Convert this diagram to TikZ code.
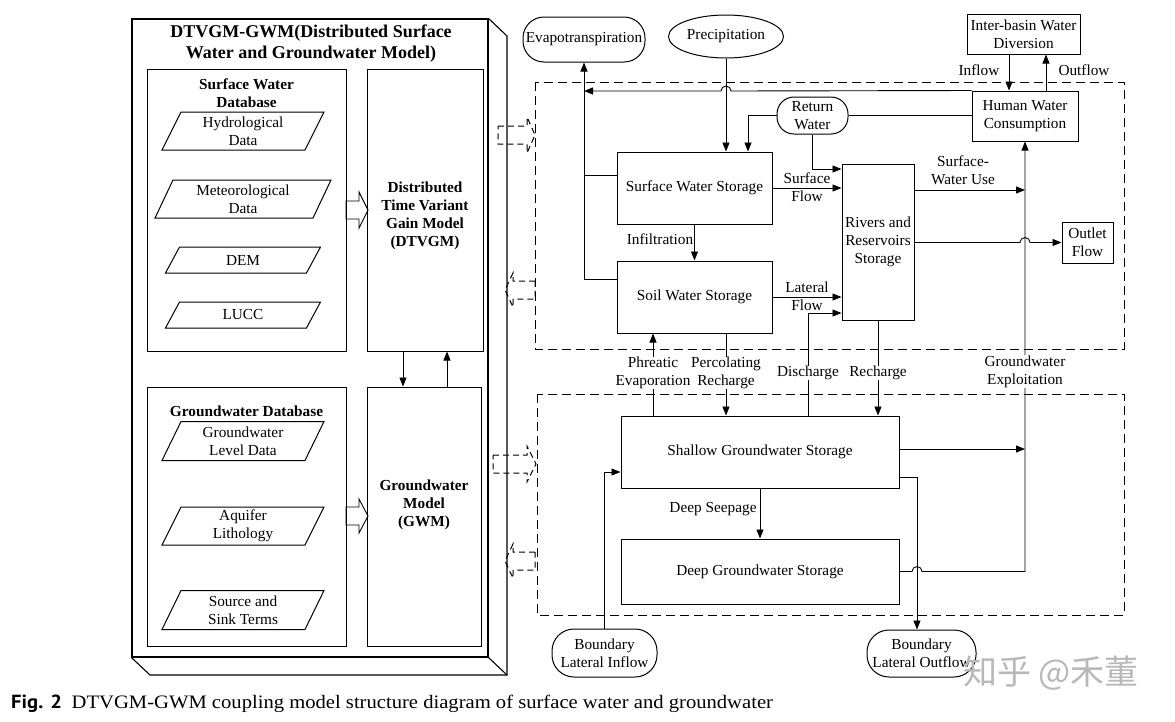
\documentclass[tikz,border=0pt]{standalone}
\usepackage{fontspec}
\setmainfont{Liberation Serif}
\setsansfont{PT Sans}
\newfontfamily\cjkf{Noto Sans CJK SC}
\usetikzlibrary{arrows.meta,shapes.geometric,calc}
\newcommand\fsn{\fontsize{15.3}{18}\selectfont}
\newcommand\fst{\fontsize{18}{21}\selectfont\bfseries}
\newcommand\dbpara[7]{%
  \draw[line width=1pt] ({#1-#3/2-#5/2},{#2+#4/2}) -- ({#1+#3/2-#5/2},{#2+#4/2}) -- ({#1+#3/2+#5/2},{#2-#4/2}) -- ({#1-#3/2+#5/2},{#2-#4/2}) -- cycle;
  \node[lbl] (#6) at (#1,#2) {#7};}
\newcommand\hollow[7]{% x0 xb xt y hw hh style
  \draw[#7] (#1,{#4-#5}) -- (#2,{#4-#5}) -- (#2,{#4-#6}) -- (#3,#4) -- (#2,{#4+#6}) -- (#2,{#4+#5}) -- (#1,{#4+#5}) -- cycle;}
\tikzset{
  box/.style={draw, line width=1pt, inner sep=0pt, align=center, font=\fsn},
  stad/.style={box, rounded corners=#1},
  lbl/.style={align=center, inner sep=0.5pt, font=\fsn},
  lblw/.style={lbl, fill=white},
  arr/.style={-{Triangle[length=9pt,width=7pt]}, line width=0.9pt},
  ln/.style={line width=0.9pt},
  dashbox/.style={dash pattern=on 9pt off 5pt, line width=1pt},
  dasharr/.style={dash pattern=on 6pt off 4pt, line width=1pt},
  solarr/.style={line width=0.9pt},
}
\begin{document}
\begin{tikzpicture}[x=1pt,y=-1pt]
\useasboundingbox[fill=white] (0,0) rectangle (1175,721);

% ---------- left 3D frame ----------
\node[box, line width=1.1pt, minimum width=356pt, minimum height=638pt] (frame) at (310,338) {};
\draw[line width=1.1pt] (frame.north east) -- (507,36) -- (507,675) -- (150,675) -- (frame.south west);
\draw[line width=1.1pt] (frame.south east) -- (507,675);
\node[align=center, inner sep=0pt, font=\fst] (title) at (311,43.5) {DTVGM-GWM(Distributed Surface\\Water and Groundwater Model)};

\node[box, minimum width=199pt, minimum height=282pt] (swdb) at (246.5,210) {};
\node[lbl, font=\fsn\bfseries] (swdbt) at (246.5,93.5) {Surface Water\\Database};
\dbpara{243}{131}{143}{38}{19}{hyd}{Hydrological\\Data}
\dbpara{243}{199}{158}{38}{18}{met}{Meteorological\\Data}
\dbpara{243}{260}{141}{26}{14}{dem}{DEM}
\dbpara{243}{315}{141}{26}{14}{lucc}{LUCC}

\node[box, minimum width=116pt, minimum height=282pt] (dtvgm) at (425,210) {};
\node[lbl, font=\fsn\bfseries] (dtvgmt) at (425,215.5) {Distributed\\Time Variant\\Gain Model\\(DTVGM)};

\node[box, minimum width=199pt, minimum height=259pt] (gwdb) at (246.5,516.5) {};
\node[lbl, font=\fsn\bfseries] (gwdbt) at (246.5,411) {Groundwater Database};
\dbpara{243}{441}{143}{39}{19}{gld}{Groundwater\\Level Data}
\dbpara{243}{526}{143}{38}{19}{aq}{Aquifer\\Lithology}
\dbpara{243}{610}{143}{39}{19}{sst}{Source and\\Sink Terms}

\node[box, minimum width=114pt, minimum height=259pt] (gwm) at (424,516.5) {};
\node[lbl, font=\fsn\bfseries] (gwmt) at (424,505) {Groundwater\\Model\\(GWM)};

\coordinate (a1) at (403,370);
\coordinate (a2) at (447,370);
\draw[arr] (a1 |- dtvgm.south) -- (a1 |- gwm.north);
\draw[arr] (a2 |- gwm.north) -- (a2 |- dtvgm.south);

\hollow{346}{359}{368}{210}{9}{18}{solarr}
\hollow{346}{359}{368}{516}{9}{17}{solarr}

% ---------- dashed hollow arrows ----------
\hollow{498}{527}{535}{135}{9}{18}{dasharr}
\hollow{535}{513}{505}{290}{9}{17}{dasharr}
\hollow{493}{527}{536}{464}{9}{18}{dasharr}
\hollow{535}{513}{505}{561}{9}{17}{dasharr}

% ---------- dashed regions ----------
\draw[dashbox] (535,82) rectangle (1124,349);
\draw[dashbox] (537,394) rectangle (1124,615);

% ---------- right side nodes ----------
\node[stad=21pt, minimum width=122pt, minimum height=45pt] (evap) at (584,39.5) {Evapotranspiration};
\node[box, ellipse, minimum width=115pt, minimum height=43pt] (precip) at (726,36.5) {Precipitation};
\node[box, minimum width=155pt, minimum height=72pt] (sws) at (694.5,188) {Surface Water Storage};
\node[box, minimum width=155pt, minimum height=72pt] (soil) at (694.5,297) {Soil Water Storage};
\node[stad=17pt, minimum width=71pt, minimum height=37pt] (rw) at (812.5,115.5) {Return\\Water};
\node[box, minimum width=72pt, minimum height=156pt] (rivers) at (878,242) {Rivers and\\Reservoirs\\Storage};
\node[box, minimum width=106pt, minimum height=50pt] (hwc) at (1025,116) {Human Water\\Consumption};
\node[box, minimum width=113pt, minimum height=40pt] (ibd) at (1023.5,34) {Inter-basin Water\\Diversion};
\node[box, minimum width=51pt, minimum height=41pt] (outlet) at (1087.5,242.5) {Outlet\\Flow};
\node[box, minimum width=278pt, minimum height=72pt] (shallow) at (760,452) {Shallow Groundwater Storage};
\node[box, minimum width=278pt, minimum height=65pt] (deep) at (760,571.5) {Deep Groundwater Storage};
\node[stad=22pt, minimum width=105pt, minimum height=48pt] (bli) at (604.5,653) {Boundary\\Lateral Inflow};
\node[stad=22pt, minimum width=109pt, minimum height=47pt] (blo) at (921.5,653.5) {Boundary\\Lateral Outflow};

% ---------- connectors ----------
\draw[arr] (precip.south) -- (precip.south |- sws.north);
\coordinate (ej1) at (584,175);
\coordinate (ej2) at (584,279);
\coordinate (topl) at (584,91);
\draw[ln] (sws.west |- ej1) -- (ej1);
\draw[arr] (soil.west |- ej2) -- (ej2) -- (evap.south);
\draw[arr] (hwc.north west) -- (731,91) arc[start angle=0,end angle=-180,radius=5] -- (topl);

\coordinate (rwt) at (748,115.5);
\draw[arr] (rw.west) -- (rwt) -- (rwt |- sws.north);
\draw[ln] (rw.east) -- (rw.east -| hwc.west);
\coordinate (rwd) at (812.5,169);
\draw[arr] (rw.south) -- (rwd) -- (rwd -| rivers.west);

\draw[arr] (sws.east) -- (sws.east -| rivers.west);
\node[lbl] (sfl) at (807,187.5) {Surface\\Flow};
\draw[arr] (soil.east) -- (soil.east -| rivers.west);
\node[lbl] (lfl) at (807,296.5) {Lateral\\Flow};

\draw[arr] (sws.south) -- (soil.north);
\node[lbl] (infl) at (660,239) {Infiltration};

\coordinate (dis) at (808,313);
\draw[arr] (dis |- shallow.north) -- (dis) -- (dis -| rivers.west);
\node[lblw] (disl) at (808,373) {Discharge};
\draw[arr] (rivers.south) -- (rivers.south |- shallow.north);
\node[lblw] (recl) at (878,373) {Recharge};
\coordinate (perc) at (726,373);
\draw[arr] (perc |- soil.south) -- (perc |- shallow.north);
\node[lblw] (percl) at (perc) {Percolating\\Recharge};
\coordinate (phr) at (653,373);
\draw[arr] (phr |- shallow.north) -- (phr |- soil.south);
\node[lblw] (phrl) at (phr) {Phreatic\\Evaporation};

\coordinate (inf) at (1009,70);
\coordinate (outf) at (1046,70);
\draw[arr] (inf |- ibd.south) -- (inf |- hwc.north);
\draw[arr] (outf |- hwc.north) -- (outf |- ibd.south);
\node[lbl] (infl2) at (979,70) {Inflow};
\node[lbl] (outfl) at (1084,70) {Outflow};

\coordinate (swu) at (1025,190);
\draw[arr] (swu -| rivers.east) -- (swu);
\node[lbl] (swul) at (963,170) {Surface-\\Water Use};
\draw[arr] (outlet.west -| rivers.east) -- (1020,242.5) arc[start angle=180,end angle=360,radius=5] -- (outlet.west);

\coordinate (ge) at (1025,571.5);
\draw[arr] (deep.east) -- (912,571.5) arc[start angle=180,end angle=360,radius=5] -- (ge) -- (hwc.south);
\node[lblw] (gel) at (1025,371.5) {Groundwater\\Exploitation};
\coordinate (sge) at (1025,449);
\draw[arr] (sge -| shallow.east) -- (sge);
\coordinate (sbl) at (917,477);
\draw[arr] (sbl -| shallow.east) -- (sbl) -- (sbl |- blo.north);
\coordinate (bl) at (604.5,472);
\draw[arr] (bli.north) -- (bl) -- (bl -| shallow.west);
\draw[arr] (shallow.south) -- (deep.north);
\node[lbl] (dsl) at (713,509) {Deep Seepage};

% ---------- caption & watermark ----------
\node[anchor=base west, inner sep=0pt, font=\fontsize{19}{21}\selectfont] (cap) at (11,708) {\scalebox{1.085}[1]{{\sffamily\bfseries Fig. 2}\hspace{9pt}DTVGM-GWM coupling model structure diagram of surface water and groundwater}};
\node[anchor=west, inner sep=0pt, text=black!28, font=\cjkf\fontsize{34}{36}\selectfont] (wm) at (963,673) {知乎 @禾董};
\end{tikzpicture}
\end{document}
